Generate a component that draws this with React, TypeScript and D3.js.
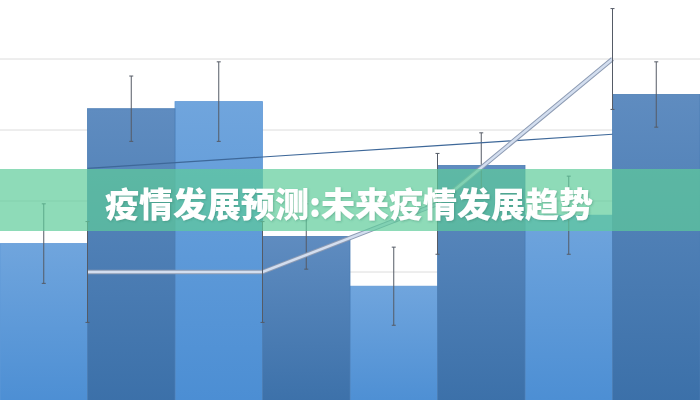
import { type FC, useEffect, useRef } from 'react';
import * as d3 from 'd3';

// 数据
const categories = ['一期', '二期', '三期', '四期'];
const seriesKeys = ['新增', '累计'];
const newCases = [24, 44, 18, 28];
const newErr = [5.6, 5.6, 5.5, 5.5];
const totalCases = [43, 25, 35, 45];
const totalErr = [4.6, 4.6, 4.6, 4.6];
const forecast = [20, 20, 29.6, 50];
const forecastErr = [7.1, 7.1, 7.1, 7.1];
const trend = [34.6, 36.2, 37.8, 39.4];
const gridTicks = [10, 20, 30, 40, 50];
const title = '疫情发展预测:未来疫情发展趋势';

const width = 700;
const height = 400;
const gridColor = '#dcdcdc';
const errColor = '#555b66';
const trendColor = '#3e6899';
const bandColor = '#5ecc9a';

const App: FC = () => {
  const ref = useRef<SVGSVGElement>(null);

  useEffect(() => {
    const { current: dom } = ref;
    if (!dom) return;
    const svg = d3.select(dom);
    svg.selectAll('*').remove();

    // 渐变
    const defs = svg.append('defs');
    const grad = (id: string, top: string, bottom: string) => {
      const g = defs
        .append('linearGradient')
        .attr('id', id)
        .attr('x1', 0)
        .attr('y1', 0)
        .attr('x2', 0)
        .attr('y2', 1);
      g.append('stop').attr('offset', '0%').attr('stop-color', top);
      g.append('stop').attr('offset', '100%').attr('stop-color', bottom);
    };
    grad('lightBar', '#70a5dd', '#4a8dd3');
    grad('darkBar', '#5f8cc0', '#3a6fa8');
    const filter = defs.append('filter').attr('id', 'txtShadow');
    filter
      .append('feDropShadow')
      .attr('dx', 1)
      .attr('dy', 1)
      .attr('stdDeviation', 1)
      .attr('flood-color', '#2a6d5c')
      .attr('flood-opacity', 0.35);

    // 比例尺
    const x = d3.scaleBand<string>().domain(categories).range([0, width]).padding(0);
    const xInner = d3
      .scaleBand<string>()
      .domain(seriesKeys)
      .range([0, x.bandwidth()])
      .padding(0);
    const y = d3.scaleLinear().domain([0, 60]).range([414, -12]);
    const cx = (i: number) => x(categories[i])! + x.bandwidth() / 2;

    // 网格线
    svg
      .append('g')
      .selectAll('line')
      .data(gridTicks)
      .join('line')
      .attr('x1', 0)
      .attr('x2', width)
      .attr('y1', (d) => y(d))
      .attr('y2', (d) => y(d))
      .attr('stroke', gridColor)
      .attr('stroke-width', 1);

    // 柱子
    const barSeries = [
      { key: seriesKeys[0], values: newCases, err: newErr, fill: 'url(#lightBar)', edge: '#5f98d6' },
      { key: seriesKeys[1], values: totalCases, err: totalErr, fill: 'url(#darkBar)', edge: '#4b7db4' },
    ];
    barSeries.forEach((s) => {
      svg
        .append('g')
        .selectAll('rect')
        .data(s.values)
        .join('rect')
        .attr('x', (_, i) => x(categories[i])! + xInner(s.key)!)
        .attr('y', (d) => y(d))
        .attr('width', xInner.bandwidth())
        .attr('height', (d) => y(0) - y(d))
        .attr('fill', s.fill)
        .attr('stroke', s.edge)
        .attr('stroke-width', 0.8);
    });

    // 误差线
    const drawErr = (xs: number[], vals: number[], errs: number[]) => {
      const g = svg.append('g').attr('stroke', errColor).attr('stroke-width', 1);
      vals.forEach((v, i) => {
        const top = y(v + errs[i]);
        const bot = y(v - errs[i]);
        g.append('line').attr('x1', xs[i]).attr('x2', xs[i]).attr('y1', top).attr('y2', bot);
        g.append('line').attr('x1', xs[i] - 2).attr('x2', xs[i] + 2).attr('y1', top).attr('y2', top);
        g.append('line').attr('x1', xs[i] - 2).attr('x2', xs[i] + 2).attr('y1', bot).attr('y2', bot);
      });
    };
    barSeries.forEach((s) => {
      drawErr(
        s.values.map((_, i) => x(categories[i])! + xInner(s.key)! + xInner.bandwidth() / 2),
        s.values,
        s.err,
      );
    });

    // 趋势线
    const line = d3
      .line<number>()
      .x((_, i) => cx(i))
      .y((d) => y(d));
    svg
      .append('path')
      .datum(trend)
      .attr('d', line)
      .attr('fill', 'none')
      .attr('stroke', trendColor)
      .attr('stroke-width', 1.2);

    // 预测线
    svg
      .append('path')
      .datum(forecast)
      .attr('d', line)
      .attr('fill', 'none')
      .attr('stroke', '#8d9bb3')
      .attr('stroke-width', 4.5);
    svg
      .append('path')
      .datum(forecast)
      .attr('d', line)
      .attr('fill', 'none')
      .attr('stroke', '#d3deef')
      .attr('stroke-width', 2.5);
    drawErr(forecast.map((_, i) => cx(i)), forecast, forecastErr);

    // 标题横幅
    svg
      .append('rect')
      .attr('x', 0)
      .attr('y', 169)
      .attr('width', width)
      .attr('height', 62)
      .attr('fill', bandColor)
      .attr('fill-opacity', 0.7);
    svg
      .append('text')
      .attr('x', width / 2 - 1)
      .attr('y', 202)
      .attr('text-anchor', 'middle')
      .attr('dominant-baseline', 'central')
      .attr('font-family', '"Noto Sans CJK SC", sans-serif')
      .attr('font-weight', 900)
      .attr('font-size', 34)
      .attr('fill', '#ffffff')
      .attr('filter', 'url(#txtShadow)')
      .text(title);
  }, []);

  return (
    <svg
      ref={ref}
      width={width}
      height={height}
      style={{ position: 'fixed', left: 0, top: 0, background: '#fff' }}
    />
  );
};

export default App;
